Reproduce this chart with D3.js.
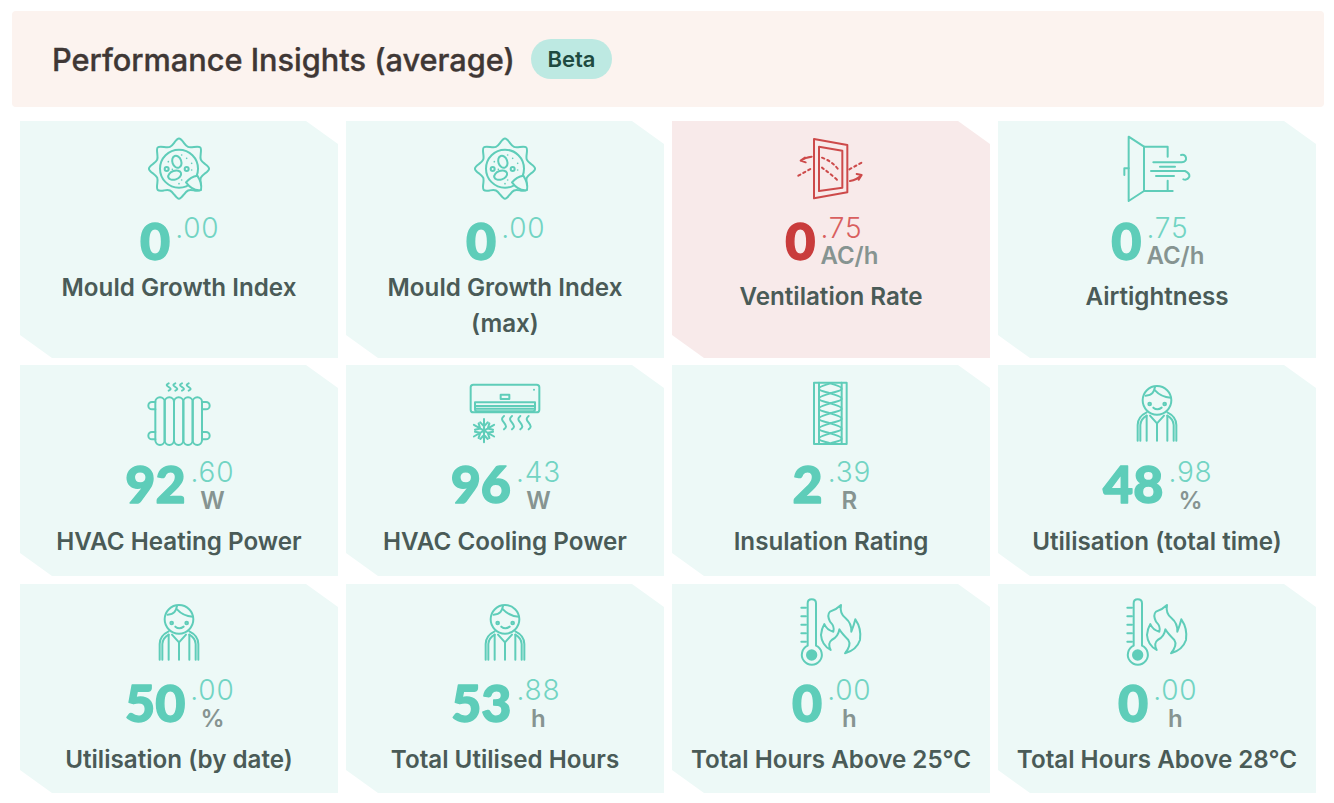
<!DOCTYPE html>
<html><head><meta charset="utf-8">
<script src="https://cdn.jsdelivr.net/npm/d3@7"></script>
<style>html,body{margin:0;padding:0;background:#fff}svg{display:block}text{font-family:Inter,sans-serif}</style>
</head><body><svg id="c" width="1334" height="803"></svg>
<script>
const title = "Performance Insights (average)";
const badge = "Beta";
const labels = [["Mould Growth Index"],["Mould Growth Index","(max)"],["Ventilation Rate"],["Airtightness"],
  ["HVAC Heating Power"],["HVAC Cooling Power"],["Insulation Rating"],["Utilisation (total time)"],
  ["Utilisation (by date)"],["Total Utilised Hours"],["Total Hours Above 25°C"],["Total Hours Above 28°C"]];
const wholes = ["0","0","0","0","92","96","2","48","50","53","0","0"];
const decimals = [".00",".00",".75",".75",".60",".43",".39",".98",".00",".88",".00",".00"];
const units = ["","","AC/h","AC/h","W","W","R","%","%","h","h","h"];
const iconNames = ["mould","mould","window","door","radiator","ac","insulation","person","person","person","thermo","thermo"];
const alertCards = [2];

const colLeft = d3.scaleBand().domain(d3.range(4)).range([20,1316]).paddingInner(8/326);
const rowTops = [121,365,584], rowHeights = [237,211,209];
const rowBig = [138.5,138,138], rowDec=[117,117,116], rowUnit=[143,144,143], rowLabel=[184,185,184];

const svg = d3.select("#c");
svg.append("rect").attr("x",12).attr("y",11).attr("width",1312).attr("height",96).attr("rx",4).attr("fill","#fcf3ef");
const titleText = svg.append("text").attr("x",52).attr("y",71).attr("font-size",30).attr("font-weight",500)
  .attr("fill","#3f3735").attr("stroke","#3f3735").attr("stroke-width",0.35).text(title);
const tw = titleText.node().getComputedTextLength();
titleText.attr("font-size",30*463/tw);
svg.append("rect").attr("x",531).attr("y",39).attr("width",81).attr("height",40).attr("rx",20).attr("fill","#bde9e2");
svg.append("text").attr("x",571.5).attr("y",67).attr("text-anchor","middle").attr("font-size",22).attr("font-weight",600)
  .attr("fill","#1d4a40").text(badge);

// ---- icons, drawn in 3x crop units
const gear = d3.lineRadial().curve(d3.curveBasisClosed)(
  d3.range(32).map(i=>[i*Math.PI/16, [97,78,68,78][i%4]])).toString();
const flake = d3.range(6).map(i=>{
  const a=Math.PI/6+i*Math.PI/3, c=Math.cos(a), s=Math.sin(a), R=35;
  const p=(r,o)=>`${(r*c-o*s).toFixed(1)},${(r*s+o*c).toFixed(1)}`;
  return `M0,0L${p(R,0)}M${p(25,-11)}L${p(13,0)}L${p(25,11)}`;
}).join("");
const lobes = d3.range(6).map(i=>{
  const y=40+i*30;
  return `M121,${y}C108,${y+5} 87,${y+8} 87,${y+16}C87,${y+23} 108,${y+25} 121,${y+30}`+
         `M121,${y}C134,${y+5} 155,${y+8} 155,${y+16}C155,${y+23} 134,${y+25} 121,${y+30}`;
}).join("");
const wave=(x,y,h)=>`M${x},${y}c-8,${h*.17} -8,${h*.25} 0,${h*.5}c8,${h*.25} 8,${h*.33} 0,${h*.5}`;
const person = {off:[102,10],paths:[
  "M128,76a43,43 0 1,0 86,0a43,43 0 1,0 -86,0",
  "M137,62C158,61 162,50 165,36","M165,46Q183,66 212,68",
  "M160,98Q172,108 185,98",
  "M113,197V150Q113,125 140,112","M121,197V150Q122,132 140,122","M229,197V150Q229,125 202,112","M221,197V150Q220,132 202,122",
  "M150,122L171,145L192,122","M171,145V197","M140,122V197","M202,122V197"],dots:[[149,87,4],[194,87,4]]};
const thermo = {off:[108,6],paths:[
  "M83,40Q83,28 95,28Q108,28 108,40V167A30,30 0 1 1 83,167Z",
  "M64,53H78M64,79H78M64,104H78M64,130H78M64,155H78",
  "M152,180Q125,165 123,135Q125,115 133,102Q140,120 160,125Q165,110 150,95Q140,75 150,65Q170,58 183,45Q178,70 197,85Q215,100 214,125Q222,105 226,88Q245,115 240,150Q230,180 195,190Q215,165 205,150Q185,130 178,118Q175,140 155,150Q142,160 152,180Z"],
  dots:[[95,195,17,1]]};
const icons = {
  mould:{off:[-20,-121],inner:gear,gearC:[537,506],paths:[
    "M480,506a57,57 0 1,1 57,57a57,57 0 0,1 -57,-57",
    "M518,490a13,18 -20 1,1 25,-9a13,18 -20 1,1 -25,9","M505,532a20,13 -20 1,1 38,-13a20,13 -20 1,1 -38,13"],
    drop:"M558,547Q572,530 592,527Q607,550 603,570Q578,574 558,547Z",
    dots:[[500,507,6],[560,507,6],[505,485,2.5,1],[560,475,2.5,1],[575,490,2.5,1],[545,465,2.5,1],[575,510,2.5,1],[517,508,2.5,1],[537,551,2.5,1],[545,540,2.5,1]]},
  window:{off:[-2,-6],paths:[
    "M432,72L532,90V232L432,250Z","M447,95L517,107V218L447,228Z",
    "M425,125Q405,127 392,137M392,137L405,128M392,137L407,142","M540,198Q560,195 575,180M575,180L560,177M575,180L566,194"],
    dash:["M385,182L428,158","M538,163L582,139","M456,128Q490,140 508,168","M456,158Q480,175 505,198"]},
  door:{off:[2,-6],paths:[
    "M386,65L432,95V228L386,258Z","M432,95H503V125","M432,228H518","M503,228V197","M386,160H373V180",
    "M460,142H545Q560,140 558,128Q555,117 543,120","M480,155H525","M453,168H555Q570,175 568,185Q562,197 550,193","M468,183H522"]},
  radiator:{off:[100,5],paths:[
    ...d3.range(5).map(i=>`M${106+i*28},96a14,14 0 0 1 28,0V211a14,14 0 0 1 -28,0Z`),
    "M106,96H96a11,11 0 0 0 0,22H106","M246,96H258a11,11 0 0 1 0,22H246","M106,186H96a11,11 0 0 0 0,22H106","M246,186H258a11,11 0 0 1 0,22H246",
    wave(146,40,22),wave(166,40,22),wave(186,40,22),wave(206,40,22)]},
  ac:{off:[104,5],paths:[
    "M70,44H260a8,8 0 0 1 8,8V119a8,8 0 0 1 -8,8H70a8,8 0 0 1 -8,-8V52a8,8 0 0 1 8,-8Z","M152,74H178V87H152Z",
    "M75,97H255V118a6,6 0 0 1 -6,6H81a6,6 0 0 1 -6,-6Z","M75,108H255","M78,116H252",
    wave(162,138,40),wave(186,138,40),wave(211,138,40),wave(236,138,40)],
    dots:[[252,59,3,1]],flake:[102,182]},
  insulation:{off:[118,5],paths:["M72,38H170V222H72Z","M87,38V222M155,38V222",lobes]},
  person, thermo
};
function drawIcon(g,name,color,bg){
  const ic=icons[name];
  const h=g.append("g").attr("transform",`translate(${ic.off[0]},${ic.off[1]}) scale(${1/3})`)
    .attr("fill","none").attr("stroke",color).attr("stroke-width",6).attr("stroke-linejoin","round").attr("stroke-linecap","round");
  if(ic.inner) h.append("path").attr("d",ic.inner).attr("transform",`translate(${ic.gearC})`);
  (ic.paths||[]).forEach(d=>h.append("path").attr("d",d));
  if(ic.drop) h.append("path").attr("d",ic.drop).attr("fill",bg);
  (ic.dash||[]).forEach(d=>h.append("path").attr("d",d).attr("stroke-dasharray","7 10"));
  if(ic.flake) h.append("path").attr("d",flake).attr("transform",`translate(${ic.flake})`);
  (ic.dots||[]).forEach(c=>{const e=h.append("circle").attr("cx",c[0]).attr("cy",c[1]).attr("r",c[2]);if(c[3])e.attr("fill",color).attr("stroke","none");});
}

labels.forEach((lab,i)=>{
  const col=i%4,row=Math.floor(i/4),alert=alertCards.includes(i);
  const x=colLeft(col),y=rowTops[row],w=colLeft.bandwidth(),h=rowHeights[row];
  const bg=alert?"#f8eaea":"#edf9f7";
  const g=svg.append("g").attr("transform",`translate(${x},${y})`);
  g.append("path").attr("d",`M0,0H${w-32}L${w},23V${h}H32L0,${h-23}Z`).attr("fill",bg);
  const main=alert?"#c93c3c":"#5ecdb9", dec=alert?"#d95f5f":"#72d4c3";
  drawIcon(g,iconNames[i],alert?"#cd4a4a":"#5fcdb9",bg);
  const cx=w/2;
  const big=g.append("text").attr("y",rowBig[row]).attr("font-size",52).attr("font-weight",900).attr("fill",main)
    .attr("stroke",main).attr("stroke-width",1.4).attr("stroke-linejoin","round")
    .style("font-family","Lato,sans-serif").text(wholes[i]);
  const dc=g.append("text").attr("y",rowDec[row]).attr("font-size",28).attr("font-weight",300).attr("letter-spacing",0.8).attr("fill",dec).text(decimals[i]);
  const un=g.append("text").attr("y",rowUnit[row]).attr("font-size",24).attr("font-weight",600).attr("fill","#869491").text(units[i]);
  const bw=big.node().getComputedTextLength(),dw=dc.node().getComputedTextLength(),uw=un.node().getComputedTextLength();
  const colW=Math.max(dw,uw),gap=5,total=bw+gap+colW,start=cx-total/2+0.8;
  big.attr("x",start);
  dc.attr("x",start+bw+gap);
  un.attr("x",start+bw+gap+colW/2).attr("text-anchor","middle");
  const ly=units[i]?rowLabel[row]:175;
  lab.forEach((t,k)=>g.append("text").attr("x",cx).attr("y",ly+k*36).attr("text-anchor","middle")
    .attr("font-size",24.2).attr("font-weight",600).attr("fill","#4a5b57").text(t));
});
</script></body></html>
